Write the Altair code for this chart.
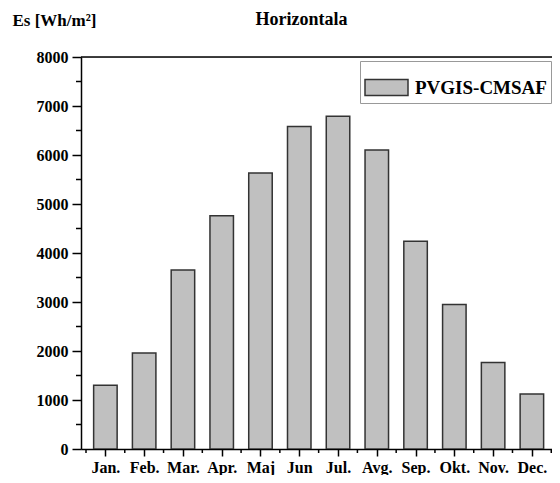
import altair as alt
import pandas as pd
import numpy as np

months = ["Jan.", "Feb.", "Mar.", "Apr.", "Maj", "Jun", "Jul.", "Avg.", "Sep.", "Okt.", "Nov.", "Dec."]
values = [1300, 1960, 3655, 4760, 5635, 6580, 6790, 6100, 4240, 2950, 1765, 1125]
series_name = "PVGIS-CMSAF"
y_ticks = [0, 1000, 2000, 3000, 4000, 5000, 6000, 7000, 8000]
chart_title = "Horizontala"
y_title = "Es [Wh/m²]"

FONT = "Liberation Serif"
W, H = 471, 392

df = pd.DataFrame({"idx": np.arange(1, len(months) + 1), "value": values,
                   "series": [series_name] * len(months)})
minor_y = pd.DataFrame({"v": np.arange(500, 8000, 1000)})
minor_x = pd.DataFrame({"v": np.arange(0.5, len(months) + 0.6, 1.0)})
title_df = pd.DataFrame({"t": [chart_title]})

label_expr = "[" + ",".join("'%s'" % m for m in months) + "][datum.value - 1]"

xscale = alt.Scale(domain=[0.5, 12.39], nice=False, zero=False)
yscale = alt.Scale(domain=[0, 8000], nice=False)

bars = alt.Chart(df).mark_bar(width=23.5, stroke="#333333", strokeWidth=1.5, clip=True).encode(
    x=alt.X("idx:Q", scale=xscale,
            axis=alt.Axis(values=list(range(1, 13)), labelExpr=label_expr, title=None,
                          grid=False, tickSize=7, tickWidth=1.5, tickColor="black",
                          domainColor="black", domainWidth=1.5,
                          labelFont=FONT, labelFontSize=16, labelFontWeight="bold",
                          labelColor="black", labelPadding=3, labelFlush=False,
                          labelOverlap=False)),
    y=alt.Y("value:Q", scale=yscale,
            axis=alt.Axis(values=y_ticks, format="d", title=y_title, titleAngle=0,
                          titleX=-69, titleY=-32, titleAlign="left", titleBaseline="alphabetic",
                          titleFont=FONT, titleFontSize=17, titleFontWeight="bold",
                          titleColor="black",
                          grid=False, tickSize=9, tickWidth=1.5, tickColor="black",
                          domainColor="black", domainWidth=1.5,
                          labelFont=FONT, labelFontSize=16, labelFontWeight="bold",
                          labelColor="black", labelPadding=4)),
    fill=alt.Fill("series:N",
                  scale=alt.Scale(domain=[series_name], range=["#c0c0c0"]),
                  legend=alt.Legend(title=None, orient="none", legendX=279, legendY=4,
                                    symbolType="M-1,-0.37H1V0.37H-1Z", symbolSize=1849,
                                    symbolStrokeColor="#333333", symbolStrokeWidth=1.5,
                                    symbolOpacity=1,
                                    labelFont=FONT, labelFontSize=19, labelFontWeight="bold",
                                    labelColor="black", labelOffset=6,
                                    padding=4, strokeColor="#999999", fillColor="white")),
)

minor_y_ticks = alt.Chart(minor_y).mark_rule(color="black", strokeWidth=1.5).encode(
    y=alt.Y("v:Q", scale=yscale),
    x=alt.value(-5), x2=alt.value(0),
)

minor_x_ticks = alt.Chart(minor_x).mark_rule(color="black", strokeWidth=1.5).encode(
    x=alt.X("v:Q", scale=xscale),
    y=alt.value(H), y2=alt.value(H + 4),
)

top_line = alt.Chart(title_df).mark_rule(color="black", strokeWidth=1.5).encode(
    x=alt.value(0), x2=alt.value(W), y=alt.value(0),
)

title_text = alt.Chart(title_df).mark_text(
    font=FONT, fontSize=18, fontWeight="bold", color="black",
    align="center", baseline="alphabetic",
).encode(text="t:N", x=alt.value(220.5), y=alt.value(-32))

chart = alt.layer(bars, minor_y_ticks, minor_x_ticks, top_line, title_text).properties(
    width=W, height=H,
    autosize=alt.AutoSizeParams(type="none"),
    padding={"left": 73, "top": 49, "right": 0, "bottom": 26},
).configure_view(strokeWidth=0).configure(background="white")

chart.save("out.html", embed_options={"renderer": "svg", "actions": False})
